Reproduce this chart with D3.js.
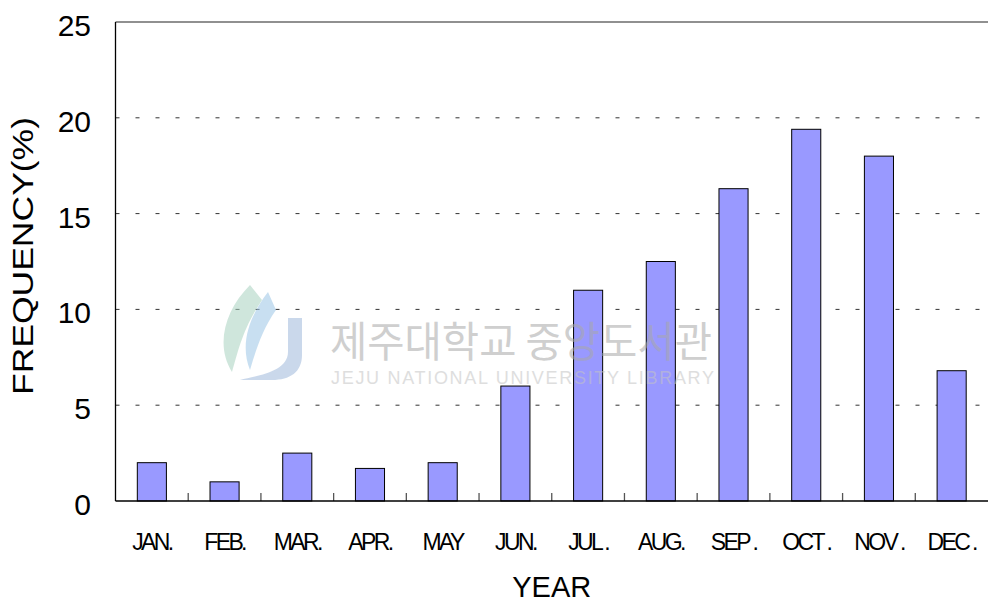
<!DOCTYPE html>
<html>
<head>
<meta charset="utf-8">
<script src="https://cdn.jsdelivr.net/npm/d3@7"></script>
<style>
  body { margin: 0; background: #fff; }
  svg { display: block; font-family: "Liberation Sans", Arial, sans-serif; }
</style>
</head>
<body>
<svg id="chart"></svg>
<script>
// data
var months = ["JAN.", "FEB.", "MAR.", "APR.", "MAY", "JUN.", "JUL .", "AUG.", "SEP .", "OCT .", "NOV .", "DEC ."];
var frequency = [2.0, 1.0, 2.5, 1.7, 2.0, 6.0, 11.0, 12.5, 16.3, 19.4, 18.0, 6.8];
var yTicks = [0, 5, 10, 15, 20, 25];

var W = 988, H = 602;
var margin = {top: 22, right: 0, bottom: 101, left: 115.5};

var svg = d3.select("#chart")
    .attr("width", W)
    .attr("height", H);

var x = d3.scaleBand()
    .domain(months)
    .range([margin.left, W - margin.right])
    .paddingInner(0.6)
    .paddingOuter(0.3);

var y = d3.scaleLinear()
    .domain([0, 25])
    .range([H - margin.bottom, margin.top]);

// grid lines
svg.append("g")
  .selectAll("line")
  .data(yTicks.filter(function(d) { return d > 0 && d < 25; }))
  .enter()
  .append("line")
    .attr("x1", margin.left)
    .attr("x2", W - margin.right)
    .attr("y1", function(d) { return y(d); })
    .attr("y2", function(d) { return y(d); })
    .attr("stroke", "#333")
    .attr("stroke-width", 1)
    .attr("stroke-dasharray", "4,16");

// top frame line
svg.append("line")
    .attr("x1", margin.left).attr("x2", W - margin.right)
    .attr("y1", y(25)).attr("y2", y(25))
    .attr("stroke", "#222").attr("stroke-width", 1.2);

// bars
svg.append("g")
  .selectAll("rect")
  .data(frequency)
  .enter()
  .append("rect")
    .attr("x", function(d, i) { return x(months[i]); })
    .attr("y", function(d) { return y(d); })
    .attr("width", x.bandwidth())
    .attr("height", function(d) { return y(0) - y(d); })
    .style("fill", "#9999ff")
    .attr("stroke", "#000")
    .attr("stroke-width", 1);

// category boundary ticks
var step = x.step();
svg.append("g")
  .selectAll("line")
  .data(months.slice(1))
  .enter()
  .append("line")
    .attr("x1", function(d) { return x(d) + x.bandwidth() / 2 - step / 2; })
    .attr("x2", function(d) { return x(d) + x.bandwidth() / 2 - step / 2; })
    .attr("y1", y(0) - 8)
    .attr("y2", y(0))
    .attr("stroke", "#555")
    .attr("stroke-width", 1.3);

// axes lines
svg.append("line")
    .attr("x1", margin.left).attr("x2", W - margin.right)
    .attr("y1", y(0)).attr("y2", y(0))
    .attr("stroke", "#000").attr("stroke-width", 1.3);
svg.append("line")
    .attr("x1", margin.left).attr("x2", margin.left)
    .attr("y1", y(25)).attr("y2", y(0))
    .attr("stroke", "#000").attr("stroke-width", 1.3);

// watermark, faint, drawn over the bars
var wm = svg.append("g").attr("pointer-events", "none").style("opacity", 0.55);
wm.append("path")
    .attr("d", "M250,285 C225,310 215,345 232,372 C238,352 242,330 262,300 C258,295 254,290 250,285 Z")
    .style("fill", "#a9d3c0");
wm.append("path")
    .attr("d", "M268,292 C248,318 240,345 250,370 C256,350 262,330 276,310 Z")
    .style("fill", "#9cc6e6");
wm.append("path")
    .attr("d", "M288,318 L302,318 L302,355 C302,372 290,380 272,380 L240,380 C256,376 288,372 288,352 Z")
    .style("fill", "#9fb9dc");
wm.append("text")
    .attr("x", 330).attr("y", 357)
    .attr("textLength", 382)
    .attr("lengthAdjust", "spacingAndGlyphs")
    .style("font-family", "'Noto Sans CJK KR', sans-serif")
    .style("font-size", "42px")
    .style("fill", "#a8a8a8")
    .text("제주대학교 중앙도서관");
wm.append("text")
    .attr("x", 331).attr("y", 384)
    .attr("textLength", 383)
    .style("font-size", "18px")
    .style("fill", "#c4c4c4")
    .text("JEJU NATIONAL UNIVERSITY  LIBRARY");

// y tick labels
svg.append("g")
  .selectAll("text")
  .data(yTicks)
  .enter()
  .append("text")
    .attr("x", 91)
    .attr("y", function(d) { return y(d) + 14; })
    .attr("text-anchor", "end")
    .style("font-size", "30px")
    .style("fill", "#000")
    .text(function(d) { return d; });

// x tick labels
svg.append("g")
  .selectAll("text")
  .data(months)
  .enter()
  .append("text")
    .attr("x", function(d) { return x(d) + x.bandwidth() / 2; })
    .attr("y", 550)
    .attr("text-anchor", "middle")
    .style("font-size", "23px")
    .style("letter-spacing", "-2.6px")
    .style("fill", "#000")
    .text(function(d) { return d; });

// axis titles
svg.append("text")
    .attr("x", (margin.left + W) / 2)
    .attr("y", 597)
    .attr("text-anchor", "middle")
    .style("font-size", "29px")
    .text("YEAR");

svg.append("text")
    .attr("transform", "translate(33," + 256 + ") rotate(-90)")
    .attr("text-anchor", "middle")
    .attr("textLength", 278)
    .attr("lengthAdjust", "spacingAndGlyphs")
    .style("font-size", "30px")
    .text("FREQUENCY(%)");
</script>
</body>
</html>
